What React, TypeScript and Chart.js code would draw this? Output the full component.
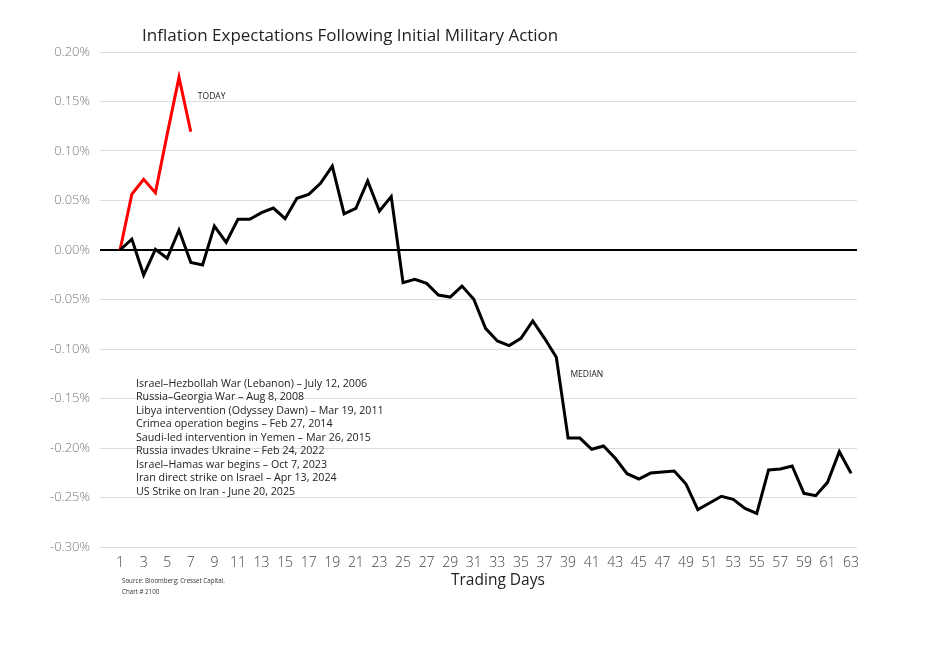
import React, { useEffect, useRef } from "react";
import { Chart, registerables } from "chart.js";

Chart.register(...registerables);

const days: number[] = Array.from({ length: 63 }, (_, i) => i + 1);

const todayValues: number[] = [0, 0.0563, 0.0714, 0.0579, 0.117, 0.1744, 0.1195];

const medianValues: number[] = [
  0, 0.011, -0.0253, 0.0007, -0.0084, 0.0202, -0.0125, -0.0152, 0.0242, 0.0077,
  0.031, 0.031, 0.0377, 0.0424, 0.0316, 0.0522, 0.0562, 0.0673, 0.0848, 0.0364,
  0.0421, 0.0697, 0.0394, 0.0539, -0.033, -0.0296, -0.0337, -0.0455, -0.0475, -0.0364,
  -0.0498, -0.0791, -0.0919, -0.0966, -0.0892, -0.0717, -0.0892, -0.1084, -0.19, -0.19,
  -0.2013, -0.198, -0.2104, -0.226, -0.2313, -0.2253, -0.2242, -0.2232, -0.2364, -0.2623,
  -0.2556, -0.2488, -0.2519, -0.261, -0.266, -0.2222, -0.2212, -0.2182, -0.2458, -0.2482,
  -0.2347, -0.2037, -0.2256,
];

const xTickLabels: number[] = days.filter((d) => d % 2 === 1);

const events: string[] = [
  "Israel–Hezbollah War (Lebanon) – July 12, 2006",
  "Russia–Georgia War – Aug 8, 2008",
  "Libya intervention (Odyssey Dawn) – Mar 19, 2011",
  "Crimea operation begins – Feb 27, 2014",
  "Saudi-led intervention in Yemen – Mar 26, 2015",
  "Russia invades Ukraine – Feb 24, 2022",
  "Israel–Hamas war begins – Oct 7, 2023",
  "Iran direct strike on Israel – Apr 13, 2024",
  "US Strike on Iran - June 20, 2025",
];

const titleText = "Inflation Expectations Following Initial Military Action";
const xAxisTitle = "Trading Days";
const sourceLines: string[] = ["Source: Bloomberg; Cresset Capital.", "Chart # 2100"];

const FONT = "'Open Sans', 'Noto Sans', sans-serif";

const annotations = {
  id: "annotations",
  afterDraw(chart: any) {
    const ctx = chart.ctx;
    const xs = chart.scales.x;
    const ys = chart.scales.y;
    ctx.save();
    ctx.textBaseline = "middle";
    ctx.textAlign = "left";
    ctx.fillStyle = "#222";
    ctx.font = `17px ${FONT}`;
    ctx.fillText(titleText, 142, 36);

    ctx.font = `8.5px ${FONT}`;
    ctx.fillText("TODAY", xs.getPixelForValue(7.6), ys.getPixelForValue(0.155));
    ctx.fillText("MEDIAN", xs.getPixelForValue(39.2), ys.getPixelForValue(-0.1255));

    ctx.font = `10.7px ${FONT}`;
    events.forEach((e, i) => {
      ctx.fillText(e, 136, 383.5 + i * 13.5);
    });

    ctx.font = `6.2px ${FONT}`;
    ctx.fillStyle = "#333";
    sourceLines.forEach((s, i) => ctx.fillText(s, 122, 581 + i * 11));

    ctx.font = `15.5px ${FONT}`;
    ctx.fillStyle = "#222";
    ctx.fillText(xAxisTitle, 451, 581);
    ctx.restore();
  },
};

export default function App() {
  const ref = useRef<HTMLCanvasElement>(null);
  useEffect(() => {
    if (!ref.current) return;
    const chart = new Chart(ref.current, {
      type: "line",
      data: {
        datasets: [
          {
            label: "MEDIAN",
            data: medianValues.map((v, i) => ({ x: days[i], y: v })),
            borderColor: "#000",
            borderWidth: 3,
            pointRadius: 0,
            tension: 0,
          },
          {
            label: "TODAY",
            data: todayValues.map((v, i) => ({ x: days[i], y: v })),
            borderColor: "#ff0000",
            borderWidth: 3,
            pointRadius: 0,
            tension: 0,
          },
        ],
      },
      options: {
        animation: false,
        responsive: false,
        maintainAspectRatio: false,
        layout: { padding: { top: 52, right: 79, bottom: 0, left: 0 } },
        plugins: { legend: { display: false }, tooltip: { enabled: false }, title: { display: false } },
        scales: {
          x: {
            type: "linear",
            min: -0.7,
            max: 63.5,
            afterFit: (s: any) => {
              s.height = 100;
            },
            afterBuildTicks: (s: any) => {
              s.ticks = xTickLabels.map((v) => ({ value: v }));
            },
            grid: { display: false, drawTicks: false },
            border: { display: false },
            ticks: {
              autoSkip: false,
              maxRotation: 0,
              padding: 8,
              color: "#444",
              font: { family: FONT, size: 14, weight: "300" },
              callback: (v: any) => String(v),
            },
          },
          y: {
            min: -0.3,
            max: 0.2,
            afterFit: (s: any) => {
              s.width = 100;
            },
            grid: {
              drawTicks: false,
              color: (c: any) => (c.tick && c.tick.value === 0 ? "#000" : "#dcdcdc"),
              lineWidth: (c: any) => (c.tick && c.tick.value === 0 ? 2 : 1),
            },
            border: { display: false },
            ticks: {
              stepSize: 0.05,
              padding: 10,
              color: "#777",
              font: { family: FONT, size: 13, weight: "300" },
              callback: (v: any) => Number(v).toFixed(2) + "%",
            },
          },
        },
      },
      plugins: [annotations],
    });
    return () => chart.destroy();
  }, []);
  return (
    <div style={{ position: "absolute", left: 0, top: 0, width: 936, height: 647, background: "#fff" }}>
      <canvas ref={ref} width={936} height={647} style={{ width: 936, height: 647 }} />
    </div>
  );
}
